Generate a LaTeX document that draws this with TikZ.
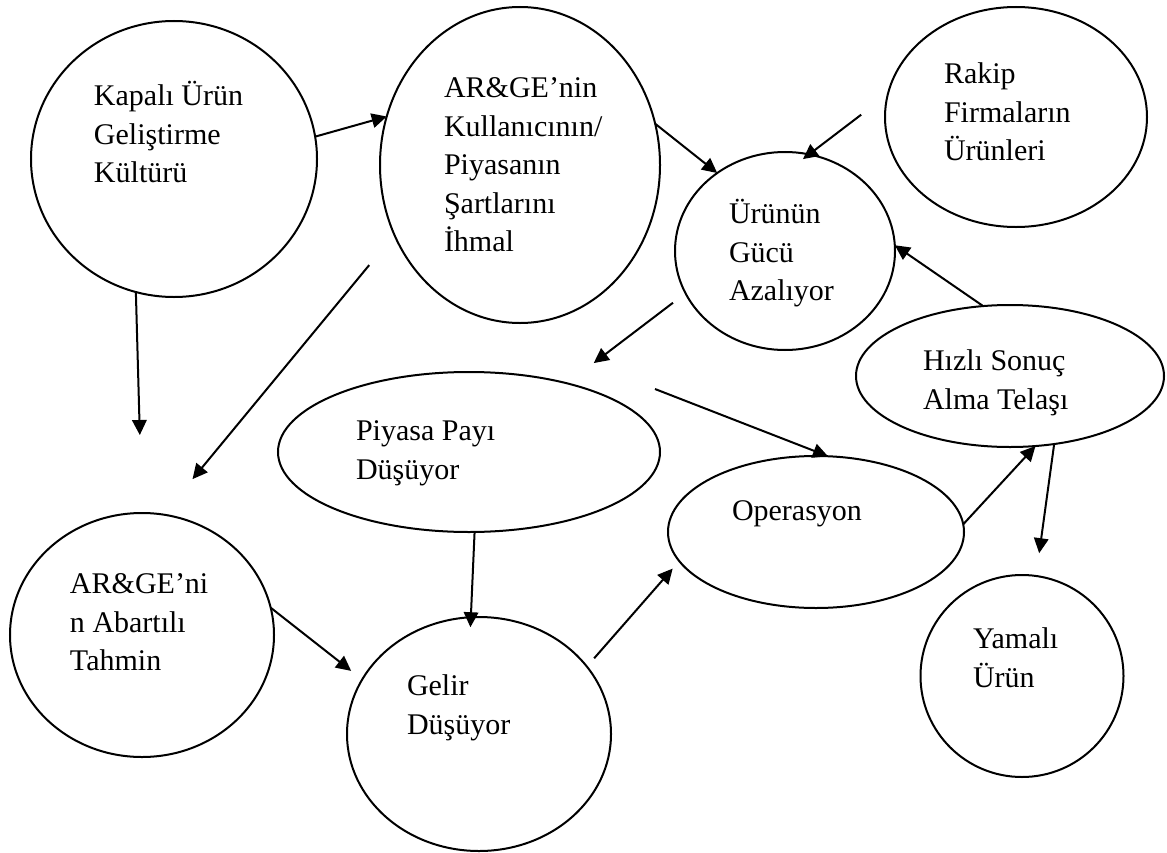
\documentclass[tikz,border=0pt]{standalone}
\usepackage{fontspec}
\setmainfont{Liberation Serif}
\usetikzlibrary{shapes.geometric,arrows.meta}

\begin{document}
\begin{tikzpicture}[x=0.4pt,y=-0.4pt,line width=0.8pt,
        balon/.style={ellipse,draw,inner sep=0pt,outer sep=0pt},
        yazi/.style={anchor=north west,inner sep=0pt,align=left,
          font=\fontsize{12}{15.4}\selectfont},
        ok/.style={-{Triangle[length=6pt,width=5.8pt]}}]
      \useasboundingbox (0,0) rectangle (1167,853);

      \node[balon,minimum width=114.4pt,minimum height=110.4pt] (kapali) at (174,159) {};
      \node[balon,minimum width=112pt,minimum height=126.4pt] (ihmal) at (520,165) {};
      \node[balon,minimum width=104.8pt,minimum height=88pt] (rakip) at (1016,117) {};
      \node[balon,minimum width=88pt,minimum height=79.2pt] (guc) at (785,251) {};
      \node[balon,minimum width=123.2pt,minimum height=56.8pt] (telas) at (1010,376) {};
      \node[balon,minimum width=152.8pt,minimum height=64pt] (pay) at (469,452) {};
      \node[balon,minimum width=118.4pt,minimum height=60.8pt] (operasyon) at (816,532) {};
      \node[balon,minimum width=105.6pt,minimum height=97.6pt] (tahmin) at (142,635) {};
      \node[balon,minimum width=105.6pt,minimum height=93.6pt] (gelir) at (479,734) {};
      \node[balon,minimum width=81.2pt,minimum height=80.8pt] (yamali) at (1022,676) {};

      \node[yazi] (kapaliyazi) at (93,78) {\strut Kapalı Ürün\\Geliştirme\\Kültürü};
      \node[yazi] (ihmalyazi) at (443,70) {\strut AR\&GE’nin\\Kullanıcının/\\Piyasanın\\Şartlarını\\İhmal};
      \node[yazi] (rakipyazi) at (943,56) {\strut Rakip\\Firmaların\\Ürünleri};
      \node[yazi] (gucyazi) at (728,196) {\strut Ürünün\\Gücü\\Azalıyor};
      \node[yazi] (telasyazi) at (922,343) {\strut Hızlı Sonuç\\Alma Telaşı};
      \node[yazi] (payyazi) at (355,413) {\strut Piyasa Payı\\Düşüyor};
      \node[yazi] (operasyonyazi) at (731,493) {\strut Operasyon};
      \node[yazi] (tahminyazi) at (69,566) {\strut AR\&GE’ni\\n Abartılı\\Tahmin};
      \node[yazi] (geliryazi) at (406,668) {\strut Gelir\\Düşüyor};
      \node[yazi] (yamaliyazi) at (972,621) {\strut Yamalı\\Ürün};

      \coordinate (serbest) at (655,389);

      \draw[ok] (kapali.9) -- (ihmal.160);
      \draw[ok,shorten >=31.2pt] (kapali.254) -- (tahmin.north);
      \draw[ok,shorten <=15.8pt,shorten >=18.4pt] (ihmal.209) -- (tahmin.80);
      \draw[ok] (ihmal.17) -- (guc.131);
      \draw[ok,shorten <=13.4pt,shorten >=-3.1pt] (rakip.170) -- (guc.76);
      \draw[ok] (telas.111) -- (guc.3);
      \draw[ok,shorten <=6.3pt,shorten >=13.4pt] (guc.203) -- (pay.35);
      \draw[ok] (serbest) -- (operasyon.81);
      \draw[ok,shorten >=-4pt] (pay.274) -- (gelir.94);
      \draw[ok,shorten >=5.6pt] (tahmin.12) -- (gelir.155);
      \draw[ok,shorten <=4.4pt,shorten >=4pt] (gelir.32) -- (operasyon.192);
      \draw[ok] (operasyon.3) -- (telas.290);
      \draw[ok,shorten >=9.2pt] (telas.303) -- (yamali.82);

    \end{tikzpicture}
\end{document}
